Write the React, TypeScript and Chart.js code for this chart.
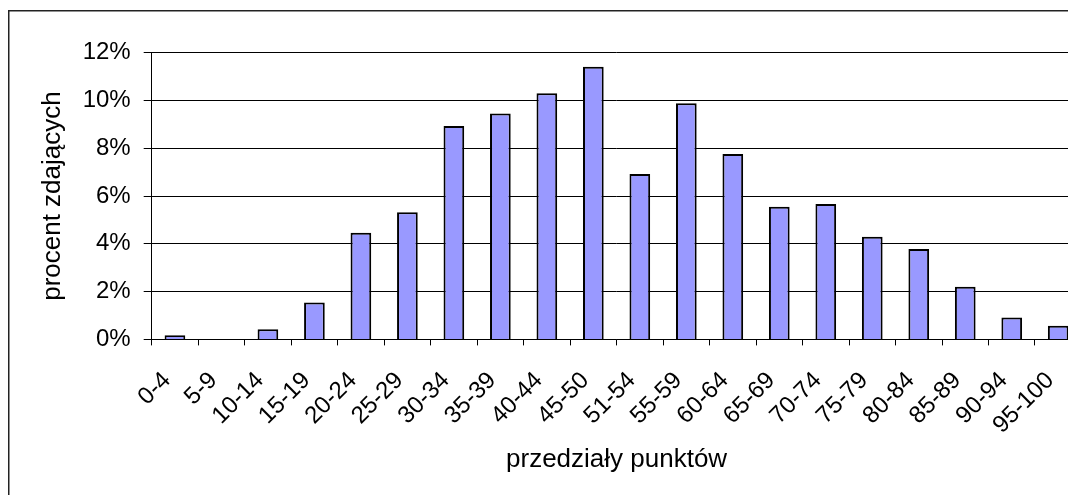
import React, { useEffect, useRef } from "react";
import { Chart, registerables } from "chart.js";

Chart.register(...registerables);

const categories = [
  "0-4", "5-9", "10-14", "15-19", "20-24", "25-29", "30-34", "35-39", "40-44", "45-50",
  "51-54", "55-59", "60-64", "65-69", "70-74", "75-79", "80-84", "85-89", "90-94", "95-100",
];
const percentValues = [
  0.17, 0, 0.42, 1.54, 4.46, 5.32, 8.93, 9.46, 10.3, 11.41,
  6.92, 9.88, 7.76, 5.55, 5.67, 4.3, 3.78, 2.2, 0.92, 0.57,
];
const yTickMin = 0;
const yTickMax = 12;
const yTickStep = 2;
const yTitle = "procent zdających";
const xTitle = "przedziały punktów";

const FONT = "'Liberation Sans', Arial, sans-serif";

const frameBox = {
  id: "frameBox",
  beforeDraw(chart: any) {
    const ctx = chart.ctx;
    ctx.save();
    ctx.strokeStyle = "#222";
    ctx.lineWidth = 1.5;
    ctx.beginPath();
    ctx.moveTo(8.75, 600);
    ctx.lineTo(8.75, 10.75);
    ctx.lineTo(1200, 10.75);
    ctx.stroke();
    ctx.restore();
  },
};

export default function App() {
  const ref = useRef<HTMLCanvasElement | null>(null);
  useEffect(() => {
    if (!ref.current) return;
    const chart = new Chart(ref.current, {
      type: "bar",
      data: {
        labels: categories,
        datasets: [
          {
            data: percentValues,
            backgroundColor: "#9999FF",
            borderColor: "#000000",
            borderWidth: 2,
            categoryPercentage: 1,
            barPercentage: 0.445,
          },
        ],
      },
      options: {
        animation: false,
        responsive: false,
        devicePixelRatio: 1,
        layout: { padding: { left: 0, top: 52.7, right: 16.3, bottom: 0 } },
        plugins: {
          legend: { display: false },
          tooltip: { enabled: false },
        },
        scales: {
          x: {
            offset: true,
            grid: {
              offset: true,
              drawOnChartArea: false,
              drawTicks: true,
              tickLength: 6,
              color: "#000",
            },
            border: { display: true, color: "#000", width: 1 },
            ticks: {
              color: "#000",
              font: { family: FONT, size: 24 },
              minRotation: 45,
              maxRotation: 45,
              autoSkip: false,
              padding: 21,
              labelOffset: -8,
            },
            title: {
              display: true,
              text: xTitle,
              color: "#000",
              font: { family: FONT, size: 26 },
              padding: { top: 0, bottom: 19.4 },
            },
            afterFit(scale: any) {
              scale.height = 155.6;
            },
          },
          y: {
            min: yTickMin,
            max: yTickMax,
            grid: { color: "#000", lineWidth: 1, tickLength: 8, drawTicks: true },
            border: { display: true, color: "#000", width: 1 },
            ticks: {
              stepSize: yTickStep,
              color: "#000",
              font: { family: FONT, size: 24 },
              padding: 13,
              callback: (v: any) => v + "%",
            },
            title: {
              display: true,
              text: yTitle,
              color: "#000",
              font: { family: FONT, size: 26 },
              padding: { top: 37.4, bottom: 0 },
            },
            afterFit(scale: any) {
              scale.width = 151.7;
            },
          },
        },
      },
      plugins: [frameBox],
    });
    return () => chart.destroy();
  }, []);

  return (
    <div
      style={{
        position: "absolute",
        left: 0,
        top: 0,
        width: 1068,
        height: 495,
        overflow: "hidden",
        background: "#fff",
      }}
    >
      <canvas ref={ref} width={1100} height={495} style={{ display: "block", width: 1100, height: 495 }} />
    </div>
  );
}
